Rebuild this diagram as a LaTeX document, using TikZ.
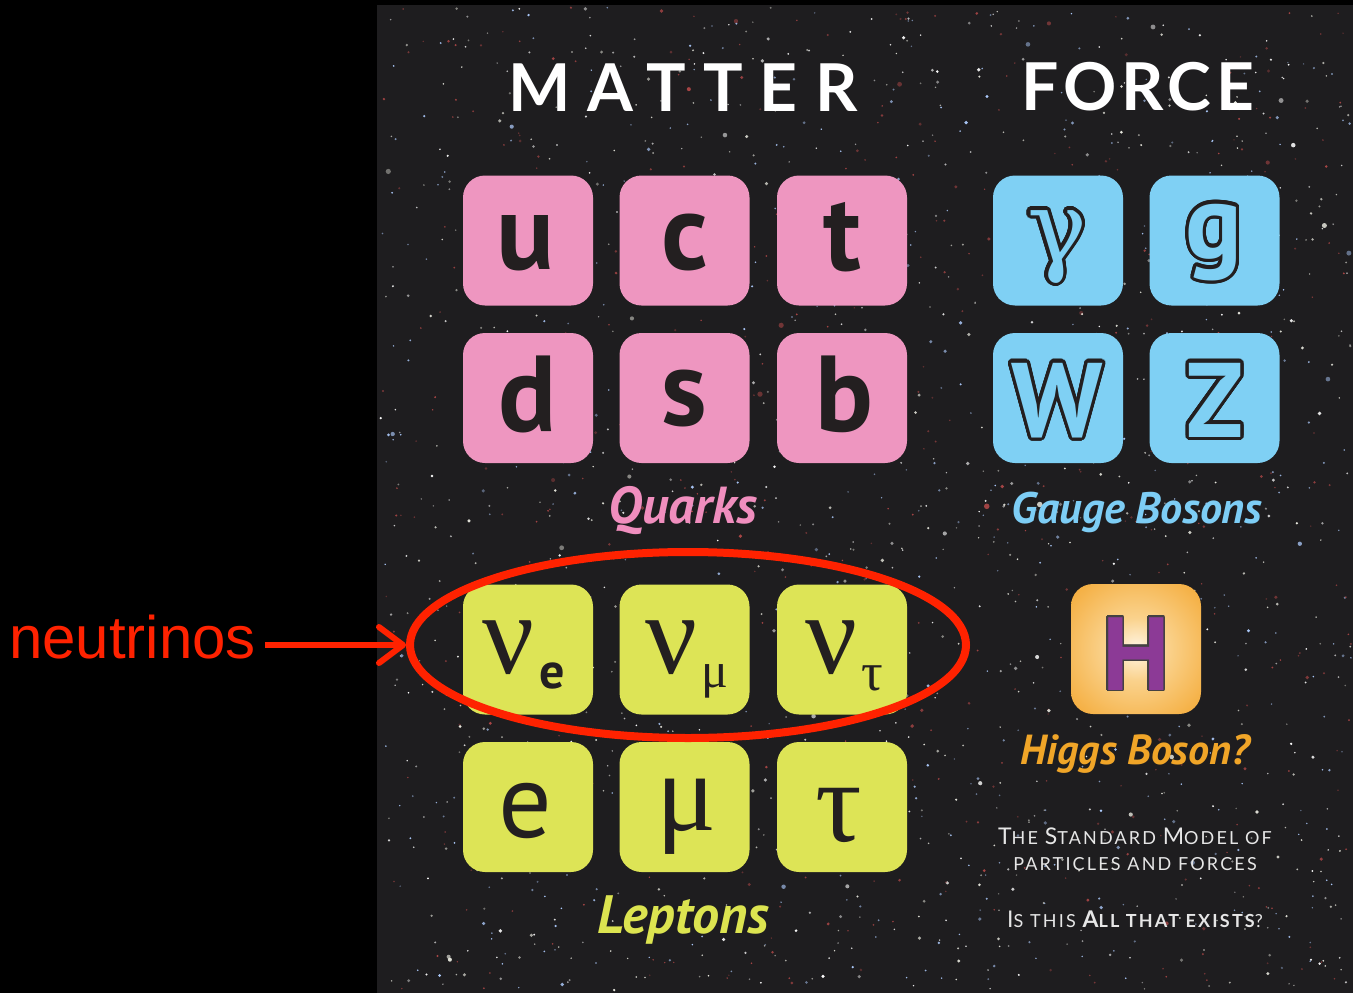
\documentclass[tikz,border=0pt]{standalone}
\usepackage{fontspec}
\usepackage{contour}
\usetikzlibrary{shapes.geometric,arrows.meta}
\setmainfont{PT Sans}
\newfontfamily\arialf{Liberation Sans}
\newfontfamily\serf{Liberation Serif}
\newfontfamily\dvserf{DejaVu Serif}
\newfontfamily\titleA[LetterSpace=26]{Lato}
\newfontfamily\titleB[LetterSpace=7]{Lato}
\newfontfamily\latof[LetterSpace=12]{Lato}
\definecolor{bg}{RGB}{30,29,31}
\definecolor{qpink}{RGB}{238,150,192}
\definecolor{gblue}{RGB}{127,208,244}
\definecolor{lyellow}{RGB}{221,228,86}
\definecolor{horange}{RGB}{243,165,45}
\definecolor{hmid}{RGB}{250,210,140}
\definecolor{hlight}{RGB}{255,246,230}
\definecolor{hpurple}{RGB}{140,58,150}
\definecolor{nred}{RGB}{255,34,0}
\definecolor{ink}{RGB}{35,31,32}
\definecolor{labpink}{RGB}{240,142,190}
\definecolor{labblue}{RGB}{125,205,245}
\definecolor{laborange}{RGB}{240,165,40}
\definecolor{labyellow}{RGB}{220,228,80}
\definecolor{txtgray}{RGB}{230,230,230}
\definecolor{star0}{RGB}{255,255,255}
\definecolor{star1}{RGB}{175,205,255}
\definecolor{star2}{RGB}{235,235,225}
\definecolor{star3}{RGB}{170,70,70}
\pgfdeclareradialshading{higgs}{\pgfpoint{0bp}{0bp}}{color(0bp)=(hlight); color(12bp)=(hmid); color(38bp)=(horange); color(50bp)=(horange)}
\newcommand\fs[1]{\fontsize{#1}{#1}\selectfont}
\newcommand\bc[1]{{\fs{23}#1}}
\contourlength{3.2pt}
\contournumber{32}
\tikzset{
  pbox/.style={rounded corners=22pt, minimum width=130pt, minimum height=130pt, inner sep=0pt, outer sep=0pt},
  quark/.style={pbox, fill=qpink},
  gauge/.style={pbox, fill=gblue},
  lepton/.style={pbox, fill=lyellow},
  higgsbox/.style={pbox, shade, shading=higgs},
  lt/.style={anchor=base, inner sep=0pt, text=ink},
  qlet/.style={lt, font=\fs{108}\bfseries},
  glet/.style={lt, font=\fs{106}\bfseries},
  grk/.style={lt, font=\serf\fs{112}},
  cat/.style={inner sep=0pt, font=\fs{45}\bfseries\itshape},
  title/.style={inner sep=0pt, text=white, font=\fs{66}\bfseries},
  stdtxt/.style={inner sep=0pt, text=txtgray, font=\latof\fs{18}}
}
\begin{document}
\begin{tikzpicture}[x=1pt,y=-1pt]
\fill[black] (0,0) rectangle (1353,993);
\useasboundingbox (0,0) rectangle (1353,993);
\fill[bg] (377,5) rectangle (1353,993);
% stars
\pgfmathsetseed{42}
\foreach \i in {1,...,2000}{%
  \pgfmathsetmacro\sx{379+972*rnd}%
  \pgfmathsetmacro\sy{7+984*rnd}%
  \pgfmathsetmacro\sr{0.8+2.2*rnd*rnd*rnd}%
  \pgfmathsetmacro\so{0.4+0.6*rnd}%
  \pgfmathtruncatemacro\sc{int(4*rnd)}%
  \fill[star\sc, opacity=\so] (\sx,\sy) circle[radius=\sr pt];
}
% titles
\node[title, font=\titleA\fs{66}\bfseries] (matter) at (683,88) {MATTER};
\node[title, font=\titleB\fs{66}\bfseries] (force) at (1138,87) {FORCE};
% quarks
\node[quark] (u) at (528,240.5) {};
\node[quark] (c) at (684.5,240.5) {};
\node[quark] (t) at (842,240.5) {};
\node[quark] (d) at (528,398) {};
\node[quark] (s) at (684.5,398) {};
\node[quark] (b) at (842,398) {};
\node[qlet] (ul) at (526,269) {u};
\node[qlet] (cl) at (684.5,269) {c};
\node[qlet] (tl) at (842,270) {t};
\node[qlet] (dl) at (528,431) {d};
\node[qlet] (sl) at (684.5,425) {s};
\node[qlet] (bl) at (844,431) {b};
\node[cat, text=labpink, font=\fs{52}\bfseries\itshape] (quarks) at (683,511) {Quarks};
% gauge bosons
\node[gauge] (gam) at (1058,240.5) {};
\node[gauge] (g) at (1214.5,240.5) {};
\node[gauge] (w) at (1058,398) {};
\node[gauge] (z) at (1214.5,398) {};
\node[lt, font=\dvserf\fs{100}] (gaml) at (1057,262) {\contour{ink}{\textcolor{gblue}{γ}}};
\node[glet] (gl) at (1214,258) {\contour{ink}{\textcolor{gblue}{g}}};
\node[glet] (wl) at (1057,437) {\contour{ink}{\textcolor{gblue}{W}}};
\node[glet] (zl) at (1215,437) {\contour{ink}{\textcolor{gblue}{Z}}};
\node[cat, text=labblue, font=\fs{44}\bfseries\itshape] (gb) at (1137,512) {Gauge Bosons};
% higgs
\node[higgsbox] (h) at (1136,649) {};
\node[lt, font=\fs{104}\bfseries] (hl) at (1136,690) {\contourlength{1.5pt}\contour{ink!85}{\textcolor{hpurple}{H}}};
\node[cat, text=laborange, font=\fs{42}\bfseries\itshape] (hb) at (1135,754) {Higgs Boson?};
% leptons
\node[lepton] (ne) at (528,649.5) {};
\node[lepton] (nm) at (684.5,649.5) {};
\node[lepton] (nt) at (842,649.5) {};
\node[lepton] (e) at (528,807) {};
\node[lepton] (m) at (684.5,807) {};
\node[lepton] (ta) at (842,807) {};
\node[grk, font=\serf\fs{115}] (nel) at (508,673) {ν};
\node[lt, font=\fs{50}\bfseries] (nes) at (552,688) {e};
\node[grk, font=\serf\fs{115}] (nml) at (671,673) {ν};
\node[lt, font=\serf\fs{50}] (nms) at (715,687) {μ};
\node[grk, font=\serf\fs{115}] (ntl) at (831,673) {ν};
\node[lt, font=\serf\fs{54}] (nts) at (872,690) {τ};
\node[lt, font=\fs{106}] (el) at (525,837) {e};
\node[grk] (ml) at (687,830) {μ};
\node[grk, font=\serf\fs{116}] (tal) at (839,841) {τ};
\node[cat, text=labyellow, font=\fs{54}\bfseries\itshape] (lep) at (683,920) {Leptons};
% standard model text
\node[stdtxt] (s1) at (1135,836) {\bc{T}HE \bc{S}TANDARD \bc{M}ODEL OF};
\node[stdtxt] (s2) at (1135,864) {PARTICLES AND FORCES};
\node[stdtxt] (s3) at (1135,919) {\bc{I}S THIS {\bfseries\bc{A}LL THAT EXISTS}?};
% neutrino highlight
\node[ellipse, draw=nred, line width=8pt, minimum width=556pt, minimum height=186pt, inner sep=0pt] (ring) at (688,645) {};
\node[anchor=base west, inner sep=0pt, text=nred, font=\arialf\fs{60}] (nu) at (9,658) {neutrinos};
\coordinate (as) at (265,645);
\draw[nred, line width=6pt, -{Straight Barb[length=24pt,width=36pt,round]}] (as) -- (ring.west);
\end{tikzpicture}
\end{document}
